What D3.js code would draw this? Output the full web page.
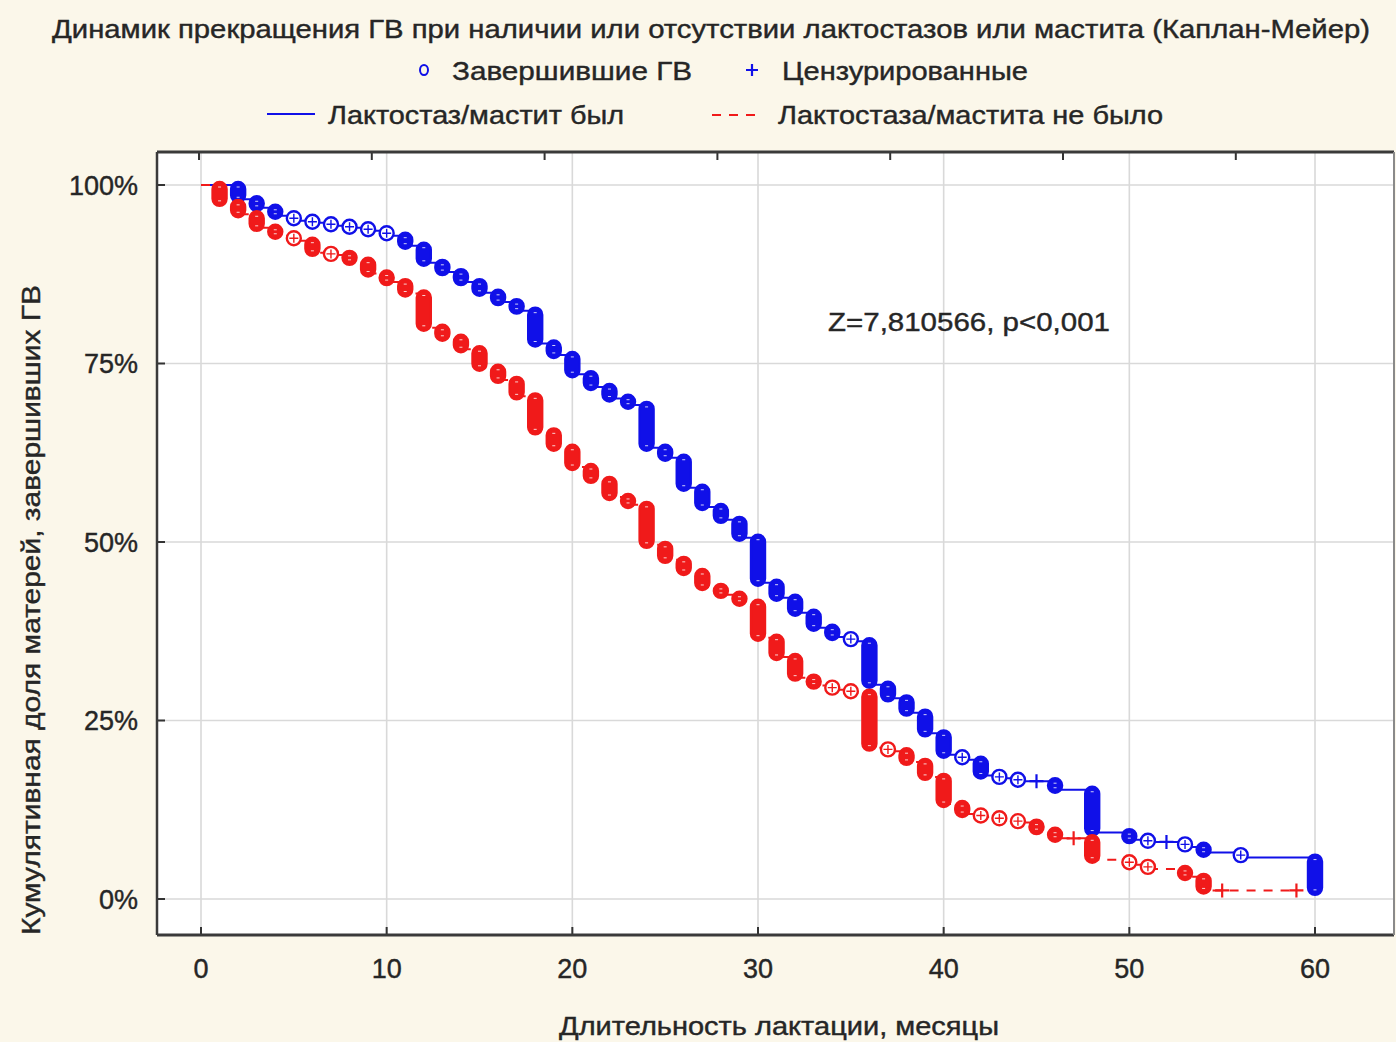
<!DOCTYPE html>
<html><head><meta charset="utf-8">
<script src="https://cdn.jsdelivr.net/npm/d3@7/dist/d3.min.js"></script>
<style>
html,body{margin:0;padding:0;background:#fbf7ea;}
svg{display:block;font-family:"Liberation Sans",Arial,sans-serif;}
</style></head>
<body>
<svg id="chart" width="1396" height="1042"></svg>
<script>
// ---------- DATA ----------
const title = "Динамик прекращения ГВ при наличии или отсутствии лактостазов или мастита (Каплан-Мейер)";
const legendMarkers = ["Завершившие ГВ", "Цензурированные"];
const seriesNames = ["Лактостаз/мастит был", "Лактостаза/мастита не было"];
const xLabel = "Длительность лактации, месяцы";
const yLabel = "Кумулятивная доля матерей, завершивших ГВ";
const annotation = "Z=7,810566, p<0,001";
const xTicks = [0, 10, 20, 30, 40, 50, 60];
const yTicks = [0, 25, 50, 75, 100];
const yTickLabels = ["0%", "25%", "50%", "75%", "100%"];
const topTicks = [0, 10, 20, 30, 40, 50, 60];

// Series 1: mastitis/lactostasis present (blue, solid)
const blueMonths = [2,3,4,5,6,7,8,9,10,11,12,13,14,15,16,17,18,19,20,21,22,23,24,25,26,27,28,29,30,31,32,33,34,35,36,37,38,39,40,41,42,43,44,46,48,50,51,53,54,56,60];
const blueValues = [98.0,96.8,95.7,95.0,94.7,94.3,94.0,93.6,92.9,91.5,89.1,87.8,86.4,84.9,83.6,82.4,77.8,76.2,73.5,71.7,70.1,69.2,63.2,61.8,57.6,54.9,53.1,50.6,44.3,42.2,40.1,38.0,36.7,36.1,30.0,28.1,26.1,23.2,20.2,19.5,17.3,16.9,16.5,15.3,9.3,8.3,8.0,7.3,6.5,5.8,1.0];
const blueCensored = [45, 52];
const blueEnd = 60;

// Series 2: no mastitis/lactostasis (red, dashed)
const redMonths = [1,2,3,4,5,6,7,8,9,10,11,12,13,14,15,16,17,18,19,20,21,22,23,24,25,26,27,28,29,30,31,32,33,34,35,36,37,38,39,40,41,42,43,44,45,46,48,50,51,53,54];
const redValues = [97.5,95.9,94.0,92.9,92.2,90.5,90.2,89.4,87.6,86.4,84.8,80.0,78.6,77.0,74.4,72.7,70.4,65.5,63.2,60.5,58.7,56.3,55.2,49.6,47.5,45.8,43.7,42.6,41.5,36.6,33.9,31.0,29.9,29.3,28.9,21.2,20.7,19.2,17.1,13.3,11.9,11.5,11.1,10.7,9.5,8.5,5.5,4.8,4.2,3.1,1.2];
const redCensored = [47, 55, 59];
const redEnd = 59;

// ---------- LAYOUT ----------
const svg = d3.select("#chart");
const L = 157, R = 1394, T = 152, B = 935;
const x = d3.scaleLinear().domain([0, 60]).range([201, 1315]);
const y = d3.scaleLinear().domain([0, 100]).range([899, 185]);
const xTop = d3.scaleLinear().domain([0, 10]).range([199, 371.8]);
const BLUE = "#1010e8", RED = "#f01a1a", TXT = "#262626";

svg.append("rect").attr("width",1396).attr("height",1042).attr("fill","#fbf7ea");
svg.append("rect").attr("x",L).attr("y",T).attr("width",R-L).attr("height",B-T).attr("fill","#ffffff");

// grid
const grid = svg.append("g").attr("stroke","#d9d9d9").attr("stroke-width",1.6);
grid.selectAll("line.v").data(xTicks).join("line").attr("class","v")
  .attr("x1",d=>x(d)).attr("x2",d=>x(d)).attr("y1",T).attr("y2",B);
grid.selectAll("line.h").data(yTicks).join("line").attr("class","h")
  .attr("x1",L).attr("x2",R).attr("y1",d=>y(d)).attr("y2",d=>y(d));

// ticks
const tk = svg.append("g").attr("stroke","#333").attr("stroke-width",2);
tk.selectAll("line.b").data(xTicks).join("line").attr("class","b")
  .attr("x1",d=>x(d)).attr("x2",d=>x(d)).attr("y1",B).attr("y2",B-8);
tk.selectAll("line.t").data(topTicks).join("line").attr("class","t")
  .attr("x1",d=>xTop(d)).attr("x2",d=>xTop(d)).attr("y1",T).attr("y2",T+8);
tk.selectAll("line.l").data(yTicks).join("line").attr("class","l")
  .attr("x1",L).attr("x2",L+8).attr("y1",d=>y(d)).attr("y2",d=>y(d));

// frame
svg.append("line").attr("x1",L).attr("x2",R).attr("y1",T).attr("y2",T).attr("stroke","#3a3a3a").attr("stroke-width",3);
svg.append("line").attr("x1",L).attr("x2",R).attr("y1",B).attr("y2",B).attr("stroke","#3a3a3a").attr("stroke-width",3);
svg.append("line").attr("x1",L).attr("x2",L).attr("y1",T).attr("y2",B).attr("stroke","#3a3a3a").attr("stroke-width",2.5);
svg.append("line").attr("x1",R).attr("x2",R).attr("y1",T).attr("y2",B).attr("stroke","#8a8a8a").attr("stroke-width",2);

// tick labels
svg.append("g").selectAll("text").data(yTicks).join("text")
  .attr("x",138).attr("y",d=>y(d)+9.5).attr("text-anchor","end")
  .attr("font-size",27).attr("fill",TXT).attr("stroke",TXT).attr("stroke-width",0.4)
  .text((d,i)=>yTickLabels[i]);
svg.append("g").selectAll("text").data(xTicks).join("text")
  .attr("x",d=>x(d)).attr("y",978).attr("text-anchor","middle")
  .attr("font-size",27).attr("fill",TXT).attr("stroke",TXT).attr("stroke-width",0.4)
  .text(d=>d);

// ---------- SERIES ----------
function valueAt(months, values, t){
  let v = 100;
  months.forEach((m,i)=>{ if(m<=t) v = values[i]; });
  return v;
}
function drawSeries(months, values, censored, end, color, dashed){
  const g = svg.append("g");
  const pts = [[0,100]].concat(months.map((m,i)=>[m, values[i]]));
  pts.push([end, values[values.length-1]]);
  const line = d3.line().x(d=>x(d[0])).y(d=>y(d[1])).curve(d3.curveStepAfter);
  g.append("path").attr("d", line(pts)).attr("fill","none").attr("stroke",color)
   .attr("stroke-width",2).attr("stroke-dasharray", dashed ? "9,8" : null);

  const r = 7;
  const steps = months.map((m,i)=>({m, prev: i ? values[i-1] : 100, cur: values[i]}));
  steps.forEach(s=>{
    const yp = y(s.prev), yc = y(s.cur), drop = yc - yp;
    let y1 = yp - 3, y2 = yc + 3;
    if (y2 - y1 < 2*r){ const mid = (yp+yc)/2; y1 = mid - r; y2 = mid + r; }
    const filled = drop > 5.5;
    g.append("rect").attr("x", x(s.m)-r).attr("y", y1).attr("width", 2*r).attr("height", y2-y1)
     .attr("rx", r).attr("ry", r).attr("fill", filled ? color : "#ffffff")
     .attr("stroke", color).attr("stroke-width", 2.4);
    const cx = x(s.m), cy = (y1+y2)/2;
    if (!filled){
      g.append("path").attr("d", `M${cx-4.5},${cy}H${cx+4.5}M${cx},${cy-4.5}V${cy+4.5}`)
       .attr("stroke", color).attr("stroke-width", 1.4);
    } else {
      g.append("path").attr("d", `M${cx-1.5},${y1+5}H${cx+1.5}M${cx-1.5},${y2-5}H${cx+1.5}`)
       .attr("stroke", "#ffffff").attr("stroke-width", 1).attr("opacity",0.8);
    }
  });
  censored.forEach(t=>{
    const cx = x(t), cy = y(valueAt(months, values, t));
    g.append("path").attr("d", `M${cx-7},${cy}H${cx+7}M${cx},${cy-7}V${cy+7}`)
     .attr("stroke", color).attr("stroke-width", 2.2);
  });
}
drawSeries(blueMonths, blueValues, blueCensored, blueEnd, BLUE, false);
drawSeries(redMonths, redValues, redCensored, redEnd, RED, true);

// ---------- TEXTS ----------
function txt(s, xx, yy, len, size, anchor){
  return svg.append("text").attr("x",xx).attr("y",yy).attr("font-size",size).attr("fill",TXT)
    .attr("stroke",TXT).attr("stroke-width",0.4)
    .attr("text-anchor", anchor||"start").attr("textLength",len).attr("lengthAdjust","spacingAndGlyphs").text(s);
}
txt(title, 52, 38, 1318, 26);
// legend row 1
svg.append("ellipse").attr("cx",424).attr("cy",70).attr("rx",4).attr("ry",5).attr("fill","none").attr("stroke",BLUE).attr("stroke-width",2);
txt(legendMarkers[0], 452, 80, 240, 26);
svg.append("path").attr("d","M746,70H758M752,64V76").attr("stroke",BLUE).attr("stroke-width",2.2);
txt(legendMarkers[1], 782, 80, 246, 26);
// legend row 2
svg.append("line").attr("x1",267).attr("x2",315).attr("y1",114).attr("y2",114).attr("stroke",BLUE).attr("stroke-width",2);
txt(seriesNames[0], 328, 124, 296, 26);
svg.append("line").attr("x1",712).attr("x2",763).attr("y1",115).attr("y2",115).attr("stroke",RED).attr("stroke-width",2).attr("stroke-dasharray","9,8");
txt(seriesNames[1], 778, 124, 385, 26);
// annotation
txt(annotation, 828, 331, 282, 26);
// axis titles
txt(xLabel, 559, 1035, 440, 26);
svg.append("text").attr("transform","translate(40,935) rotate(-90)").attr("font-size",26).attr("fill",TXT)
  .attr("stroke",TXT).attr("stroke-width",0.4)
  .attr("textLength",650).attr("lengthAdjust","spacingAndGlyphs").text(yLabel);
</script>
</body></html>
